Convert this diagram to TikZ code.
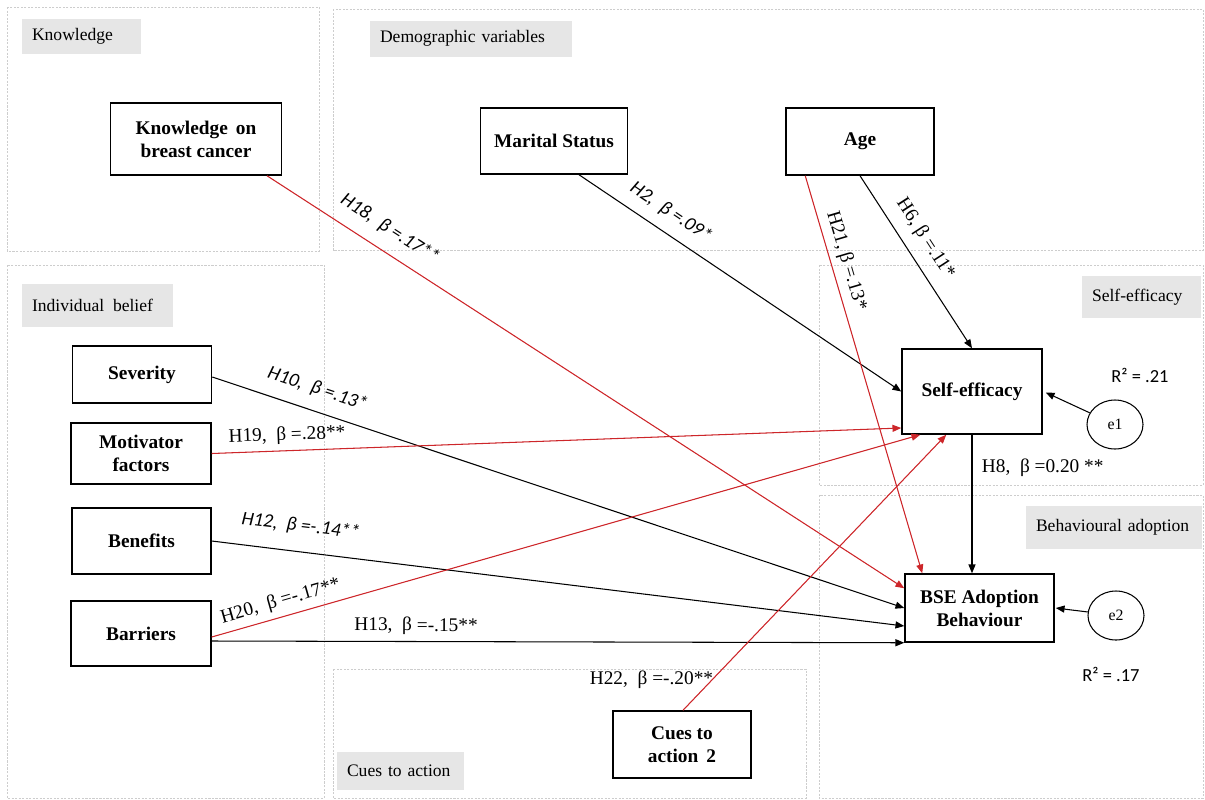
\documentclass[tikz,border=0pt]{standalone}
\usepackage{fontspec}
\setmainfont{Liberation Serif}
\newfontfamily\calib{Carlito}
\usepackage{tikz}
\usetikzlibrary{arrows.meta,calc,positioning,shapes.geometric}
\definecolor{pathred}{RGB}{205,38,42}
\definecolor{panelgray}{RGB}{205,205,205}
\definecolor{tagfill}{RGB}{230,230,230}

\begin{document}
\begin{tikzpicture}[x=0.02cm,y=-0.02cm,
  boxsize/.style 2 args={minimum width=#1*0.02cm,minimum height=#2*0.02cm},
  varbox/.style={draw,line width=0.85pt,inner sep=0pt,align=center,font=\fontsize{11}{13}\selectfont\bfseries},
  errnode/.style={draw,ellipse,line width=0.6pt,minimum width=1.12cm,minimum height=0.98cm,inner sep=0pt,font=\fontsize{9}{11}\selectfont},
  panel/.style={draw=panelgray,line width=0.5pt,dash pattern=on 1.2pt off 0.8pt},
  tagbox/.style={fill=tagfill,inner xsep=0.2cm,inner ysep=0pt,align=left,font=\fontsize{10}{12}\selectfont},
  hyp/.style={-{Triangle[length=5pt,width=4pt]},line width=0.6pt},
  redhyp/.style={hyp,draw=pathred,fill=pathred},
  sanslab/.style={font=\calib\itshape\fontsize{11}{13}\selectfont,sloped},
  seriflab/.style={font=\fontsize{11}{13}\selectfont},
  rsq/.style={font=\calib\fontsize{10.5}{12}\selectfont}]

\useasboundingbox (0,0) rectangle (1205,799);

\draw[panel] (7,7) rectangle (319,251);
\draw[panel] (333,9) rectangle (1203,250);
\draw[panel] (7,265) rectangle (324,798);
\draw[panel] (819,265) rectangle (1203,485);
\draw[panel] (819,495) rectangle (1203,798);
\draw[panel] (333,669) rectangle (806,798);

\node[tagbox,text width=1.98cm,minimum height=0.7cm] (tagknow) at (81.5,36.5) {Knowledge};
\node[tagbox,text width=3.64cm,minimum height=0.72cm] (tagdemo) at (471,38.5) {Demographic variables};
\node[tagbox,text width=2.62cm,minimum height=0.86cm] (tagbelief) at (97.5,305.5) {Individual\, belief};
\node[tagbox,text width=1.98cm,minimum height=0.84cm] (tagself) at (1141.5,297) {Self-efficacy};
\node[tagbox,text width=3.12cm,minimum height=0.86cm] (tagadopt) at (1114,527.5) {Behavioural adoption};
\node[tagbox,text width=2.14cm,minimum height=0.76cm] (tagcues) at (400.5,771) {Cues to action};

\node[varbox,boxsize={171}{72}] (know) at (196,139) {Knowledge\, on\\breast cancer};
\node[varbox,boxsize={147}{66}] (marital) at (554,141) {Marital Status};
\node[varbox,boxsize={148}{67}] (age) at (860,141.5) {Age};
\node[varbox,boxsize={140}{85}] (selfeff) at (972,391.5) {Self-efficacy};
\node[varbox,boxsize={149}{68}] (bse) at (979.5,608) {BSE Adoption\\Behaviour};
\node[varbox,boxsize={139}{57}] (severity) at (142,374.5) {Severity};
\node[varbox,boxsize={140}{61}] (motiv) at (141,453.5) {Motivator\\factors};
\node[varbox,boxsize={139}{66}] (benefit) at (141.5,541) {Benefits};
\node[varbox,boxsize={140}{65}] (barrier) at (141,633.5) {Barriers};
\node[varbox,boxsize={138}{67}] (cues) at (682,744.5) {Cues to\\action\, 2};
\node[errnode] (e1) at (1115,424.5) {e1};
\node[errnode] (e2) at (1116,615.5) {e2};

\node[rsq] (rsqself) at (1140,375) {R² = .21};
\node[rsq] (rsqbse) at (1111,674) {R² = .17};

\draw[redhyp] ($(know.south)+(71,0)$) -- node[sanslab,pos=0.174,above=4pt]{H18,~ β =.17**} ($(bse.north west)+(0,15)$);
\draw[hyp] ($(marital.south)+(25,0)$) -- node[sanslab,pos=0.25,above=3pt]{H2,~ β =.09*} (selfeff.west);
\draw[hyp] (age.south) -- node[seriflab,sloped,pos=0.43,above=3pt]{H6, β =.11*} (selfeff.north);
\draw[redhyp] ($(age.south west)+(20,0)$) -- node[seriflab,sloped,pos=0.225,above=0pt]{H21, β =.13*} ($(bse.north west)+(18,0)$);
\draw[hyp] ($(severity.east)+(0,2.5)$) -- node[sanslab,pos=0.142,above=4pt]{H10,~ β =.13*} (bse.west);
\draw[redhyp] (motiv.east) -- node[seriflab,sloped,pos=0.11,above=0pt]{H19,~ β =.28**} ($(selfeff.west)+(0,36.5)$);
\draw[hyp] (benefit.east) -- node[sanslab,pos=0.124,above=6pt]{H12,~ β =-.14**} ($(bse.west)+(0,18)$);
\draw[redhyp] ($(barrier.east)+(0,3.5)$) -- node[seriflab,sloped,pos=0.103,above=0pt]{H20,~ β =-.17**} ($(selfeff.south west)+(19,0)$);
\draw[hyp] ($(barrier.east)+(0,7.5)$) -- node[seriflab,sloped,pos=0.295,above=0pt]{H13,~ β =-.15**} (bse.south west);
\draw[redhyp] ($(cues.north)+(1,0)$) -- node[seriflab,pos=0.112,anchor=east,xshift=4pt]{H22,~ β =-.20**} ($(selfeff.south west)+(45,0)$);
\draw[hyp] (selfeff.south) -- node[seriflab,pos=0.24,right=2pt]{H8,~ β =0.20 **} (selfeff.south |- bse.north);
\draw[hyp] (e1) -- ($(selfeff.east)+(3,1)$);
\draw[hyp] (e2) -- ($(bse.east)+(1,0)$);
\end{tikzpicture}
\end{document}
